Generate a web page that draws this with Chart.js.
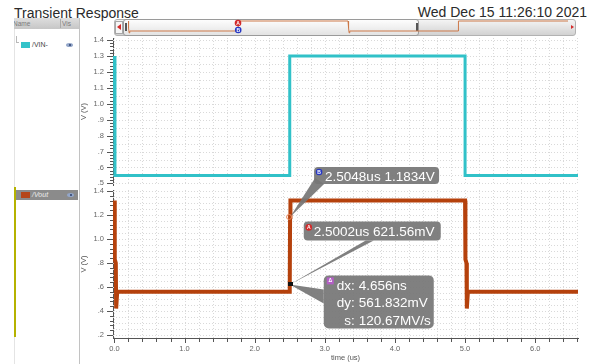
<!DOCTYPE html>
<html>
<head>
<meta charset="utf-8">
<script src="https://cdn.jsdelivr.net/npm/chart.js@4.4.1/dist/chart.umd.min.js"></script>
<style>
  body { margin:0; width:594px; height:364px; overflow:hidden; position:relative; background:#fff;
         font-family:"Liberation Sans", Arial, sans-serif; }
  .abs { position:absolute; }
  #title { left:14px; top:5px; font-size:14px; line-height:16px; color:#2a2a2a; white-space:nowrap; }
  #stamp { right:7px; top:4px; font-size:14px; line-height:16px; color:#2a2a2a; white-space:nowrap; }
  .hdr { left:14px; top:18px; width:65px; height:11px; background:linear-gradient(#dedede,#c6c6c6);
         font-size:6.5px; color:#7a7a7a; line-height:11px; overflow:hidden; }
  .row { font-size:7px; line-height:10px; white-space:nowrap; }
  .sw { position:absolute; width:9px; height:6px; }
  .eye { position:absolute; width:7px; height:4px; border-radius:50%; background:#93a6c9; }
  .eye::after { content:''; position:absolute; left:2.5px; top:1px; width:2px; height:2px; border-radius:50%; background:#2c3f6b; }
  canvas { position:absolute; }
  #scroll { left:114px; top:19px; width:460px; height:15px; border:1px solid #b2b2b2; border-radius:3px;
            background:linear-gradient(#f4f4f4,#d2d2d2); }
  #thumb { left:123px; top:19px; width:294px; height:15px; border:1px solid #9a9a9a; border-radius:3px;
           background:linear-gradient(#fdfdfd,#e3e3e3); }
  .grip { position:absolute; width:2px; height:8px; top:23px; background:#555; }
  .tri-l { position:absolute; width:0; height:0; border-top:3px solid transparent; border-bottom:3px solid transparent; border-right:4px solid #d42a2a; }
  .tri-r { position:absolute; width:0; height:0; border-top:2.5px solid transparent; border-bottom:2.5px solid transparent; border-left:3.5px solid #d42a2a; }
</style>
</head>
<body>

<div id="title" class="abs">Transient Response</div>
<div id="stamp" class="abs">Wed Dec 15 11:26:10 2021</div>

<!-- signal browser on the left -->
<div class="abs" style="left:14px;top:29px;width:1px;height:335px;background:#e4e4e4"></div>
<div class="abs" style="left:79px;top:18px;width:1px;height:346px;background:#c2c2c2"></div>
<div class="abs hdr">
  <span style="position:absolute;left:-1px">Name</span>
  <span style="position:absolute;left:46px;top:1px;width:1px;height:9px;background:#aaa"></span>
  <span style="position:absolute;left:48px">Vis</span>
</div>
<div class="abs" style="left:16px;top:36px;width:1px;height:7px;background:#b8b8b8"></div>
<div class="abs" style="left:16px;top:42px;width:3px;height:1px;background:#b8b8b8"></div>
<div class="abs row" style="left:21px;top:40px;height:10px;width:58px">
  <span class="sw" style="left:0;top:2px;background:#34c3c9"></span>
  <span style="position:absolute;left:11px;color:#444">/VIN-</span>
  <span class="eye" style="left:45px;top:3px"></span>
</div>
<div class="abs" style="left:14px;top:187px;width:2px;height:150px;background:#b5b200"></div>
<div class="abs row" style="left:16px;top:190px;height:10px;width:62px;background:#8b8b8b">
  <span class="sw" style="left:5px;top:2px;background:#b5461a"></span>
  <span style="position:absolute;left:16px;color:#ececec;font-style:italic">/Vout</span>
  <span class="eye" style="left:51px;top:3px"></span>
</div>

<!-- waveform panes -->
<canvas id="vinPlot" width="594" height="156" style="left:0;top:34px"></canvas>
<canvas id="voutPlot" width="594" height="214" style="left:0;top:150px"></canvas>

<!-- overview strip -->
<div id="scroll" class="abs"></div>
<div class="abs" style="left:115px;top:21px;width:6px;height:11px;border:1px solid #a8a8a8;background:#f6f6f6"></div>
<div class="tri-l" style="left:117px;top:24px"></div>
<div id="thumb" class="abs"></div>
<div class="grip" style="left:125px"></div>
<div class="grip" style="left:416px"></div>
<div class="tri-r" style="left:571px;top:24.5px"></div>
<canvas id="overview" width="446" height="16" style="left:126px;top:19px"></canvas>

<script>
// ---------- waveform data (time in us, voltage in V) ----------
const vinTime   = [0, 0.008, 2.5, 2.5, 5.0, 5.0, 7.5, 7.5, 10.0];
const vinVolts  = [1.30, 0.55, 0.55, 1.30, 1.30, 0.55, 0.55, 1.30, 1.30];

const voutTime  = [0, 0.005, 0.02, 0.025, 0.04, 2.5, 2.5002, 2.5048, 2.51,
                   5.0, 5.005, 5.02, 5.025, 5.04, 7.5, 7.51, 10.0];
const voutVolts = [1.32, 0.83, 0.80, 0.42, 0.56, 0.56, 0.62156, 1.1834, 1.32,
                   1.32, 0.83, 0.80, 0.42, 0.56, 0.56, 1.32, 1.32];

// ---------- axis ticks ----------
const timeTicks      = [0, 1, 2, 3, 4, 5, 6];
const timeTickLabels = ['0.0', '1.0', '2.0', '3.0', '4.0', '5.0', '6.0'];
const vinTicks       = [0.5, 0.6, 0.7, 0.8, 0.9, 1.0, 1.1, 1.2, 1.3, 1.4];
const vinTickLabels  = ['.5', '.6', '.7', '.8', '.9', '1.0', '1.1', '1.2', '1.3', '1.4'];
const voutTicks      = [0.2, 0.4, 0.6, 0.8, 1.0, 1.2, 1.4];
const voutTickLabels = ['.2', '.4', '.6', '.8', '1.0', '1.2', '1.4'];

// ---------- markers on /Vout ----------
const markerNames  = ['A', 'B'];
const markerTime   = [2.5002, 2.5048];
const markerVolts  = [0.62156, 1.1834];
const markerText   = ['2.5002us 621.56mV', '2.5048us 1.1834V'];
const deltaKeys    = ['dx:', 'dy:', 's:'];
const deltaValues  = ['4.656ns', '561.832mV', '120.67MV/s'];

const FONT = '"Liberation Sans", Arial, sans-serif';
const VIN_COLOR = '#31c1c8';
const VOUT_COLOR = '#b5410c';
const X_MIN = -0.02, X_MAX = 6.61;

Chart.defaults.font.family = FONT;
Chart.defaults.animation = false;

const pts = (xs, ys) => xs.map((t, i) => ({ x: t, y: ys[i] }));

function steps(min, max, step) {
  const out = [];
  for (let k = Math.ceil(min / step - 1e-9); k * step <= max + 1e-9; k++) out.push(+(k * step).toFixed(6));
  return out;
}
const isMultiple = (v, m) => Math.abs(v / m - Math.round(v / m)) < 1e-6;

// dotted grid and minor/major tick marks
const axisDecor = {
  id: 'axisDecor',
  beforeDatasetsDraw(chart, _args, o) {
    const { ctx, chartArea: a, scales: { x, y } } = chart;
    ctx.save();
    ctx.lineWidth = 1;
    ctx.setLineDash([1, 2]);
    ctx.strokeStyle = '#d9d9d9';
    ctx.beginPath();
    for (const v of steps(Math.max(0, x.min), x.max, o.xGrid)) {
      const p = Math.round(x.getPixelForValue(v)) + 0.5;
      ctx.moveTo(p, a.top); ctx.lineTo(p, a.bottom);
    }
    for (const v of steps(y.min, y.max, o.yGrid)) {
      const p = Math.round(y.getPixelForValue(v)) + 0.5;
      ctx.moveTo(a.left, p); ctx.lineTo(a.right, p);
    }
    ctx.stroke();
    ctx.restore();
  },
  afterDraw(chart, _args, o) {
    const { ctx, chartArea: a, scales: { x, y } } = chart;
    ctx.save();
    ctx.lineWidth = 1;
    ctx.strokeStyle = '#555';
    ctx.beginPath();
    for (const v of steps(y.min, y.max, o.yMinor)) {
      const len = isMultiple(v, o.yMajor) ? 6 : 3;
      const p = Math.round(y.getPixelForValue(v)) + 0.5;
      ctx.moveTo(a.left - len, p); ctx.lineTo(a.left, p);
    }
    if (o.xMinor) {
      for (const v of steps(Math.max(0, x.min), x.max, o.xMinor)) {
        const len = isMultiple(v, 1) ? 5 : 4;
        const p = Math.round(x.getPixelForValue(v)) + 0.5;
        ctx.moveTo(p, a.bottom); ctx.lineTo(p, a.bottom + len);
      }
    }
    ctx.stroke();
    ctx.restore();
  }
};

function roundRect(ctx, x, y, w, h, r) {
  ctx.beginPath();
  ctx.moveTo(x + r, y);
  ctx.arcTo(x + w, y, x + w, y + h, r);
  ctx.arcTo(x + w, y + h, x, y + h, r);
  ctx.arcTo(x, y + h, x, y, r);
  ctx.arcTo(x, y, x + w, y, r);
  ctx.closePath();
}
function tri(ctx, a, b, c) {
  ctx.beginPath(); ctx.moveTo(a[0], a[1]); ctx.lineTo(b[0], b[1]); ctx.lineTo(c[0], c[1]); ctx.closePath(); ctx.fill();
}
function badge(ctx, cx, cy, color, letter) {
  ctx.fillStyle = color;
  ctx.beginPath(); ctx.arc(cx, cy, 3.3, 0, Math.PI * 2); ctx.fill();
  ctx.fillStyle = '#fff';
  ctx.font = 'bold 5px ' + FONT;
  ctx.textAlign = 'center'; ctx.textBaseline = 'middle';
  ctx.fillText(letter, cx, cy + 0.3);
}

// marker labels and delta readout on the /Vout pane
const markerLabels = {
  id: 'markerLabels',
  afterDatasetsDraw(chart) {
    const { ctx, scales: { x, y } } = chart;
    const pA = [x.getPixelForValue(markerTime[0]), y.getPixelForValue(markerVolts[0])];
    const pB = [x.getPixelForValue(markerTime[1]), y.getPixelForValue(markerVolts[1])];
    const BOX = 'rgba(118,118,118,0.93)';
    ctx.save();

    const bx = pB[0] + 24, by = pB[1] - 50, bw = 125, bh = 17;
    const ax = pA[0] + 14, ay = pA[1] - 63, aw = 137, ah = 19;
    const dx = pA[0] + 34, dy = pA[1] - 9, dw = 110, dh = 53;

    ctx.fillStyle = BOX;
    tri(ctx, [bx + 1, by + 11], [bx + 10, by + bh], pB);
    tri(ctx, [ax + 62, ay + ah], [ax + 70, ay + ah], pA);
    tri(ctx, [dx, dy + 14], [dx, dy + 28], pA);

    roundRect(ctx, bx, by, bw, bh, 4); ctx.fill();
    roundRect(ctx, ax, ay, aw, ah, 4); ctx.fill();
    roundRect(ctx, dx, dy, dw, dh, 5); ctx.fill();

    ctx.fillStyle = '#fff';
    ctx.font = '13.5px ' + FONT;
    ctx.textAlign = 'left'; ctx.textBaseline = 'alphabetic';
    ctx.fillText(markerText[1], bx + 11, by + 14);
    ctx.fillText(markerText[0], ax + 10, ay + 15);

    const rows = [dy + 15, dy + 32, dy + 50];
    deltaKeys.forEach((k, i) => {
      ctx.textAlign = 'right'; ctx.fillText(k, dx + 31, rows[i]);
      ctx.textAlign = 'left';  ctx.fillText(deltaValues[i], dx + 35, rows[i]);
    });

    badge(ctx, bx + 5, by + 5, '#2637c4', markerNames[1]);
    badge(ctx, ax + 5, ay + 6, '#d22a2a', markerNames[0]);
    // delta badge
    ctx.fillStyle = '#b45fc6';
    ctx.fillRect(dx + 3, dy + 2, 7, 7);
    ctx.fillStyle = '#fff';
    ctx.font = 'bold 5px ' + FONT;
    ctx.textAlign = 'center'; ctx.textBaseline = 'middle';
    ctx.fillText('\u0394', dx + 6.5, dy + 5.7);

    // marker points on the trace
    ctx.fillStyle = '#111';
    ctx.fillRect(Math.round(pA[0]) - 2, Math.round(pA[1]) - 2, 5, 4);
    ctx.strokeStyle = '#e8875a'; ctx.lineWidth = 1;
    ctx.beginPath(); ctx.arc(pB[0] - 1, pB[1], 2.5, 0, Math.PI * 2); ctx.stroke();
    ctx.restore();
  }
};

function labelTicks(values) {
  return function (scale) { scale.ticks = values.map(v => ({ value: v })); };
}
// fixed-width value axis; no extra room reserved for the end labels
function fixedWidth(w) {
  return function (s) { s.width = w; s.paddingTop = 0; s.paddingBottom = 0; };
}

// ---------- /VIN- pane ----------
new Chart(document.getElementById('vinPlot'), {
  type: 'line',
  data: { datasets: [{ label: '/VIN-', data: pts(vinTime, vinVolts), borderColor: VIN_COLOR,
    borderWidth: 3, pointRadius: 0, borderJoinStyle: 'miter', borderCapStyle: 'butt', fill: false }] },
  options: {
    responsive: false, devicePixelRatio: 1, animation: false, events: [],
    layout: { padding: { top: 4, bottom: 5, left: 0, right: 16 } },
    plugins: { legend: { display: false }, tooltip: { enabled: false },
      axisDecor: { xGrid: 0.2, yGrid: 0.05, yMinor: 0.02, yMajor: 0.1 } },
    scales: {
      x: { type: 'linear', display: false, min: X_MIN, max: X_MAX },
      y: { type: 'linear', min: 0.49, max: 1.413,
        afterFit: fixedWidth(113),
        afterBuildTicks: labelTicks(vinTicks),
        ticks: { autoSkip: false, padding: 9, color: '#666', font: { size: 7.5 },
          callback: (v, i) => vinTickLabels[i] },
        grid: { display: false, drawTicks: false },
        border: { display: true, color: '#555', width: 1 },
        title: { display: true, text: 'V (V)', color: '#555', font: { size: 7.5 }, padding: { top: 79, bottom: 0 } } }
    }
  },
  plugins: [axisDecor]
});

// ---------- /Vout pane ----------
new Chart(document.getElementById('voutPlot'), {
  type: 'line',
  data: { datasets: [{ label: '/Vout', data: pts(voutTime, voutVolts), borderColor: VOUT_COLOR,
    borderWidth: 4, pointRadius: 0, borderJoinStyle: 'miter', borderCapStyle: 'butt', fill: false }] },
  options: {
    responsive: false, devicePixelRatio: 1, animation: false, events: [],
    layout: { padding: { top: 40, bottom: 0, left: 0, right: 16 } },
    plugins: { legend: { display: false }, tooltip: { enabled: false },
      axisDecor: { xGrid: 0.2, yGrid: 0.05, yMinor: 0.04, yMajor: 0.2, xMinor: 0.2 } },
    scales: {
      x: { type: 'linear', min: X_MIN, max: X_MAX,
        afterFit(s) { s.height = 26; s.paddingLeft = 0; s.paddingRight = 0; },
        afterBuildTicks: labelTicks(timeTicks),
        ticks: { autoSkip: false, maxRotation: 0, padding: 6, color: '#666', font: { size: 7.5 },
          callback: (v, i) => timeTickLabels[i] },
        grid: { display: false, drawTicks: false },
        border: { display: true, color: '#555', width: 1 },
        title: { display: true, text: 'time (us)', color: '#555', font: { size: 7.5 }, padding: { top: 0, bottom: 1.5 } } },
      y: { type: 'linear', min: 0.175, max: 1.408,
        afterFit: fixedWidth(113),
        afterBuildTicks: labelTicks(voutTicks),
        ticks: { autoSkip: false, padding: 9, color: '#666', font: { size: 7.5 },
          callback: (v, i) => voutTickLabels[i] },
        grid: { display: false, drawTicks: false },
        border: { display: true, color: '#555', width: 1 },
        title: { display: true, text: 'V (V)', color: '#555', font: { size: 7.5 }, padding: { top: 79, bottom: 0 } } }
    }
  },
  plugins: [axisDecor, markerLabels]
});

// ---------- overview of the full run ----------
const overviewMarkers = {
  id: 'overviewMarkers',
  afterDatasetsDraw(chart) {
    const { ctx, scales: { x } } = chart;
    badge(ctx, x.getPixelForValue(markerTime[0]), 4, '#d22a2a', markerNames[0]);
    badge(ctx, x.getPixelForValue(markerTime[1]), 11, '#2637c4', markerNames[1]);
  }
};
new Chart(document.getElementById('overview'), {
  type: 'line',
  data: { datasets: [{ data: pts(voutTime, voutVolts), borderColor: '#cc7848', borderWidth: 1,
    pointRadius: 0, fill: false }] },
  options: {
    responsive: false, devicePixelRatio: 1, animation: false, events: [],
    layout: { padding: { top: 0, bottom: 0, left: 2, right: 4 } },
    plugins: { legend: { display: false }, tooltip: { enabled: false } },
    scales: {
      x: { type: 'linear', display: false, min: 0, max: 10 },
      y: { type: 'linear', display: false, min: 0.256, max: 1.472 }
    }
  },
  plugins: [overviewMarkers]
});
</script>
</body>
</html>
